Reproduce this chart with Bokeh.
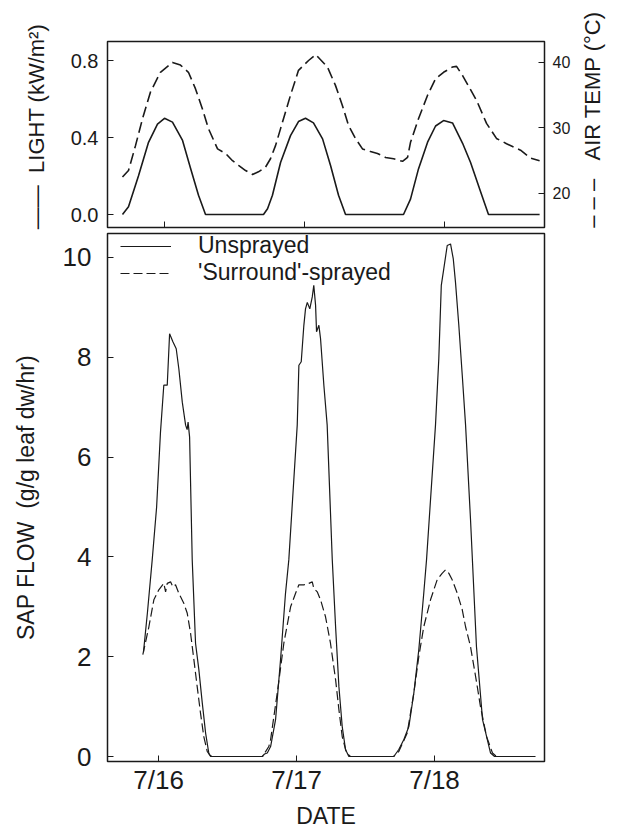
import math
from bokeh.plotting import figure
from bokeh.models import (Range1d, LinearAxis, FixedTicker, PrintfTickFormatter,
                          Legend, LegendItem, Label)
from bokeh.layouts import column, row
from bokeh.embed import file_html
from bokeh.resources import INLINE

FONT = "Liberation Sans"
INK = "#1a1a1a"

# ---------------- top panel data (x in days of July) ----------------
light_day = [15.700, 15.743, 15.814, 15.886, 15.950, 16.000, 16.057, 16.129, 16.186, 16.243, 16.293,
             16.707, 16.736, 16.771, 16.829, 16.900, 16.957, 17.007, 17.064, 17.129, 17.186, 17.243, 17.293,
             17.707, 17.757, 17.814, 17.879, 17.936, 17.993, 18.057, 18.129, 18.186, 18.257, 18.314, 18.679]
light_val = [0.00, 0.04, 0.20, 0.375, 0.47, 0.50, 0.48, 0.385, 0.24, 0.10, 0.00,
             0.00, 0.03, 0.10, 0.27, 0.41, 0.483, 0.50, 0.476, 0.393, 0.255, 0.10, 0.00,
             0.00, 0.08, 0.237, 0.376, 0.46, 0.488, 0.476, 0.37, 0.27, 0.12, 0.00, 0.00]

temp_day = [15.700, 15.743, 15.793, 15.843, 15.900, 15.971, 16.057, 16.114, 16.171, 16.221, 16.271,
            16.314, 16.379, 16.436, 16.486, 16.529, 16.579, 16.629, 16.671, 16.721, 16.757, 16.793,
            16.829, 16.900, 16.957, 17.029, 17.080, 17.164, 17.221, 17.271, 17.314, 17.364, 17.414,
            17.471, 17.521, 17.579, 17.636, 17.700, 17.736, 17.757, 17.814, 17.879, 17.936, 17.993,
            18.057, 18.086, 18.129, 18.229, 18.300, 18.371, 18.443, 18.543, 18.614, 18.679]
temp_val = [22.5, 23.5, 27.3, 31.4, 35.5, 38.5, 40.0, 39.6, 38.5, 36.0, 32.9,
            29.9, 26.8, 26.1, 25.0, 24.3, 23.5, 22.9, 23.3, 24.0, 25.3, 27.3,
            29.9, 35.0, 38.8, 40.3, 41.2, 39.3, 36.5, 33.4, 30.4, 28.4, 26.8,
            26.4, 26.1, 25.5, 25.3, 24.9, 25.5, 27.8, 31.4, 35.0, 37.5, 38.5,
            39.3, 39.4, 38.0, 34.2, 30.7, 28.4, 27.6, 26.6, 25.4, 25.0]

light_ticks = [0.0, 0.4, 0.8]
temp_ticks = [20, 30, 40]
day_ticks = [16, 17, 18]
day_labels = ["7/16", "7/17", "7/18"]

# ---------------- bottom panel data ----------------
unspr_day = [15.891, 15.920, 15.954, 15.986, 16.014, 16.038, 16.063, 16.080, 16.104, 16.128, 16.147,
             16.172, 16.196, 16.207, 16.214, 16.225, 16.244, 16.268, 16.292, 16.317, 16.341, 16.364,
             16.377, 16.751, 16.768, 16.788, 16.812, 16.848, 16.884, 16.920, 16.944, 17.005, 17.017,
             17.034, 17.053, 17.065, 17.078, 17.096, 17.114, 17.125, 17.138, 17.145, 17.162, 17.174,
             17.198, 17.222, 17.259, 17.283, 17.307, 17.331, 17.355, 17.379, 17.705, 17.741, 17.778,
             17.814, 17.850, 17.886, 17.922, 17.942, 18.007, 18.031, 18.049, 18.067, 18.092, 18.116,
             18.136, 18.152, 18.176, 18.201, 18.225, 18.261, 18.304, 18.348, 18.406, 18.435, 18.732]
unspr_val = [2.10, 2.90, 3.94, 5.00, 6.50, 7.44, 7.44, 8.47, 8.31, 8.17, 7.77,
             7.10, 6.64, 6.55, 6.70, 6.40, 3.94, 2.27, 1.74, 1.07, 0.47, 0.07,
             0.00, 0.00, 0.05, 0.07, 0.20, 0.74, 1.94, 3.27, 3.94, 6.64, 7.84,
             7.91, 8.64, 8.97, 9.10, 8.97, 9.21, 9.44, 9.04, 8.51, 8.64, 8.37,
             7.44, 6.64, 3.94, 2.60, 1.40, 0.60, 0.14, 0.00, 0.00, 0.14, 0.34,
             0.60, 1.27, 2.14, 3.27, 3.94, 6.64, 7.97, 9.44, 9.77, 10.24, 10.27,
             9.97, 9.50, 8.64, 7.64, 6.64, 4.74, 2.20, 0.74, 0.07, 0.00, 0.00]

spr_day = [15.886, 15.930, 15.966, 16.002, 16.038, 16.051, 16.063, 16.087, 16.104, 16.123, 16.147,
           16.183, 16.208, 16.232, 16.256, 16.280, 16.304, 16.328, 16.353, 16.370, 16.391, 16.754,
           16.799, 16.812, 16.860, 16.908, 16.957, 16.993, 17.017, 17.053, 17.089, 17.114, 17.125,
           17.150, 17.174, 17.210, 17.246, 17.283, 17.307, 17.331, 17.362, 17.391, 17.703, 17.741,
           17.802, 17.850, 17.886, 17.922, 17.971, 18.019, 18.055, 18.080, 18.104, 18.128, 18.165,
           18.201, 18.225, 18.261, 18.304, 18.333, 18.377, 18.420, 18.449, 18.732]
spr_val = [2.04, 2.60, 3.14, 3.34, 3.47, 3.30, 3.47, 3.50, 3.40, 3.44, 3.27,
           3.07, 2.87, 2.47, 1.94, 1.40, 0.87, 0.40, 0.10, 0.03, 0.00, 0.00,
           0.20, 0.34, 1.27, 2.27, 3.00, 3.27, 3.44, 3.44, 3.47, 3.50, 3.37,
           3.30, 3.14, 2.80, 2.27, 1.54, 0.94, 0.40, 0.07, 0.00, 0.00, 0.10,
           0.47, 1.27, 2.00, 2.60, 3.14, 3.54, 3.67, 3.74, 3.67, 3.54, 3.27,
           2.94, 2.60, 2.20, 1.50, 1.00, 0.40, 0.07, 0.00, 0.00]

sap_ticks = [0, 2, 4, 6, 8, 10]

NB = "\u00a0"
LIGHT_LABEL = "\u2014\u2014" + NB * 2 + "LIGHT (kW/m\u00b2)"
TEMP_LABEL = "\u2013 \u2013 \u2013" + NB * 3 + "AIR TEMP (\u00b0C)"


def style_axis(ax, size):
    ax.axis_line_color = None
    ax.major_tick_in = 6
    ax.major_tick_out = 0
    ax.minor_tick_line_color = None
    ax.major_tick_line_color = INK
    ax.major_label_text_font = FONT
    ax.major_label_text_font_size = size
    ax.major_label_text_color = INK
    ax.axis_label_text_font = FONT
    ax.axis_label_text_font_style = "normal"
    ax.axis_label_text_color = INK


def side_title(width, height, text, cx, cy):
    """A narrow strip that carries one rotated axis title (with its line key)."""
    f = figure(width=width, height=height, output_backend="svg", toolbar_location=None,
               x_range=Range1d(0, width), y_range=Range1d(height, 0),
               x_axis_type=None, y_axis_type=None, frame_align=False,
               min_border_left=0, min_border_right=0, min_border_top=0, min_border_bottom=0)
    f.grid.visible = False
    f.outline_line_color = None
    f.add_layout(Label(x=cx, y=cy, text=text, angle=math.pi / 2,
                       text_align="center", text_baseline="middle",
                       text_font=FONT, text_font_size="22px", text_color=INK))
    return f


TOP_H = 230
LW, RW = 50, 43          # widths of the two title strips
ML, FW = 107, 437        # frame left edge and frame width shared by both panels

# ---------------- top figure ----------------
top = figure(width=(ML - LW) + FW + 32, height=TOP_H, output_backend="svg", toolbar_location=None,
             x_range=Range1d(15.593, 18.714), y_range=Range1d(-0.0675, 0.899),
             min_border_left=ML - LW, min_border_right=32, min_border_top=41, min_border_bottom=3)
top.extra_y_ranges = {"temp": Range1d(14.8, 43.2)}
top.grid.visible = False
top.outline_line_color = INK
top.outline_line_width = 1.5

top.line(light_day, light_val, line_color=INK, line_width=1.6)
top.line(temp_day, temp_val, line_color=INK, line_width=1.6, line_dash="11 5",
         y_range_name="temp")

xa = top.xaxis[0]
style_axis(xa, "1px")
xa.ticker = FixedTicker(ticks=day_ticks)
xa.major_label_overrides = {t: "" for t in day_ticks}
xa.major_label_standoff = 0

ya = top.yaxis[0]
style_axis(ya, "20px")
ya.ticker = FixedTicker(ticks=light_ticks)
ya.formatter = PrintfTickFormatter(format="%.1f")
ya.major_label_standoff = 9

ra = LinearAxis(y_range_name="temp")
style_axis(ra, "16px")
ra.ticker = FixedTicker(ticks=temp_ticks)
ra.major_label_standoff = 8
top.add_layout(ra, "right")

left_title = side_title(LW, TOP_H, LIGHT_LABEL, 35.5, 126)
right_title = side_title(RW, TOP_H, TEMP_LABEL, 15.5, 119)

# ---------------- bottom figure ----------------
bot = figure(width=612, height=601, output_backend="svg", toolbar_location=None,
             x_range=Range1d(15.630, 18.797), y_range=Range1d(-0.1, 10.48),
             min_border_left=ML, min_border_right=612 - ML - FW, min_border_top=3,
             min_border_bottom=69)
bot.grid.visible = False
bot.outline_line_color = INK
bot.outline_line_width = 1.5

r1 = bot.line(unspr_day, unspr_val, line_color=INK, line_width=1.2)
r2 = bot.line(spr_day, spr_val, line_color=INK, line_width=1.2, line_dash="9 4")

bx = bot.xaxis[0]
style_axis(bx, "26px")
bx.ticker = FixedTicker(ticks=day_ticks)
bx.major_label_overrides = dict(zip(day_ticks, day_labels))
bx.major_label_standoff = 3
bx.axis_label = "DATE"
bx.axis_label_text_font_size = "23px"
bx.axis_label_standoff = 5

by = bot.yaxis[0]
style_axis(by, "26px")
by.ticker = FixedTicker(ticks=sap_ticks)
by.major_label_standoff = 16
by.axis_label = "SAP FLOW" + NB * 2 + "(g/g leaf dw/hr)"
by.axis_label_text_font_size = "23px"
by.axis_label_standoff = 21

leg = Legend(items=[LegendItem(label="Unsprayed", renderers=[r1]),
                    LegendItem(label="'Surround'-sprayed", renderers=[r2])],
             location=(13, 475), padding=0, margin=0, spacing=0,
             glyph_width=51, label_standoff=27,
             label_text_font=FONT, label_text_font_size="23px", label_text_color=INK,
             background_fill_alpha=0, border_line_alpha=0)
bot.add_layout(leg)

layout = column(row(left_title, top, right_title, spacing=0), bot, spacing=0)
open("out.html", "w").write(file_html(layout, INLINE))
